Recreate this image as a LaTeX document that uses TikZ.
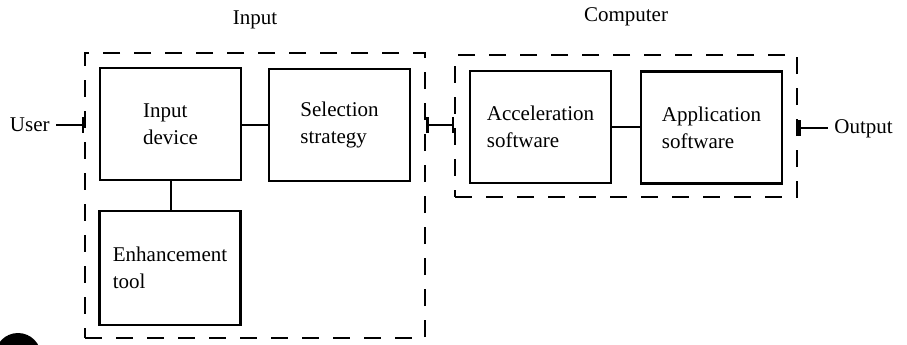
\documentclass[tikz,border=0pt]{standalone}
\usepackage{fontspec}
\setmainfont{Liberation Serif}
\usetikzlibrary{arrows.meta}
\begin{document}
\begin{tikzpicture}[x=0.5pt,y=-0.5pt,
  every node/.style={font=\fontsize{10.5}{13.5}\selectfont, inner sep=0pt},
  blk/.style={draw, line width=1.2pt, minimum width=70.5pt, minimum height=56pt, align=left},
  grp/.style={draw, line width=1.1pt, dash pattern=on 8.5pt off 7pt},
  conn/.style={line width=1pt},
  bartip/.tip={Bar[width=8pt,line width=1.2pt]},
  tick/.style={bartip-bartip, line width=1pt}
]
\useasboundingbox (0,0) rectangle (907,344);
% blob (scan mark)
\begin{scope}
\clip (0,0) rectangle (907,344);
\fill (18,356) circle[radius=11.5pt];
\end{scope}
% groups
\node[grp, minimum width=170pt, minimum height=142.5pt] (inbox) at (255,195.5) {};
\node[grp, minimum width=171pt, minimum height=71pt] (compbox) at (626,126) {};
\node (inlbl) at (255,20) {Input};
\node (complbl) at (626,17) {Computer};
% blocks
\node[blk] (indev) at (170.5,124) {Input\\device};
\node[blk] (sel) at (339.5,125) {Selection\\strategy};
\node[blk, minimum height=57pt] (enh) at (170,268) {Enhancement\\tool};
\node[blk] (acc) at (540.5,127) {Acceleration\\software};
\node[blk] (app) at (711.5,127.5) {Application\\software};
% labels
\node[anchor=east] (user) at (50,125) {User};
\node[anchor=west] (out) at (834,129) {Output};
\coordinate (uend) at (inbox.west |- 0,125);
\coordinate (lnkA) at (inbox.east |- 0,125);
\coordinate (lnkB) at (compbox.west |- 0,125);
\coordinate (ostart) at (compbox.east |- 0,128);
% connectors
\draw[conn] (indev.east |- 0,125) -- (sel.west |- 0,125);
\draw[conn] (indev.south) -- (indev.south |- enh.north);
\draw[conn] (acc.east |- 0,127) -- (app.west |- 0,127);
\draw[conn, -bartip] ([xshift=3pt]user.east) -- (uend);
\draw[tick] (lnkA) -- (lnkB);
\draw[conn, bartip-] (ostart) -- ([xshift=-3pt]out.west |- ostart);
\end{tikzpicture}
\end{document}
